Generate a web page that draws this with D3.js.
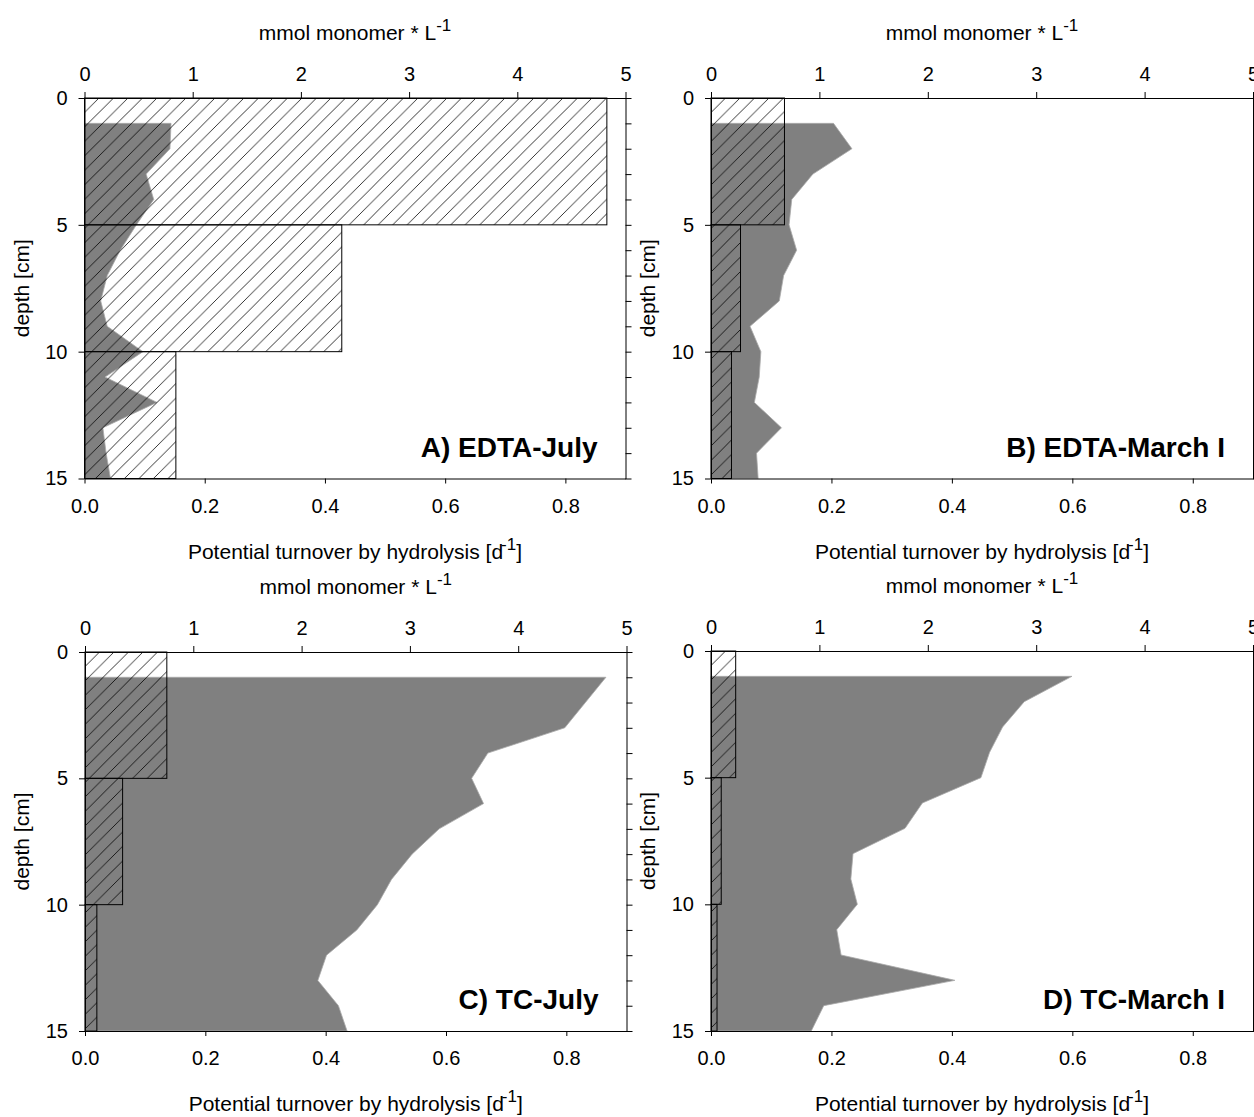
<!DOCTYPE html>
<html>
<head>
<meta charset="utf-8">
<script src="https://cdn.jsdelivr.net/npm/d3@7"></script>
<style>
  body { margin: 0; background: #fff; }
  text { font-family: "Liberation Sans", Arial, sans-serif; fill: #000; }
</style>
</head>
<body>
<div id="chart"></div>
<script>
// depth of each monomer sample [cm]
const depthCm = [1, 2, 3, 4, 5, 6, 7, 8, 9, 10, 11, 12, 13, 14, 15];

// monomer concentration, mmol monomer * L-1 (grey profile, top axis)
const monomerA = [0.80, 0.79, 0.57, 0.64, 0.48, 0.33, 0.21, 0.15, 0.21, 0.54, 0.19, 0.67, 0.17, 0.20, 0.24];
const monomerB = [1.13, 1.30, 0.94, 0.745, 0.72, 0.79, 0.67, 0.63, 0.36, 0.46, 0.445, 0.40, 0.65, 0.42, 0.435];
const monomerC = [4.81, 4.62, 4.43, 3.72, 3.57, 3.68, 3.27, 3.02, 2.83, 2.70, 2.51, 2.23, 2.15, 2.34, 2.42];
const monomerD = [3.33, 2.89, 2.69, 2.57, 2.49, 1.95, 1.79, 1.31, 1.29, 1.35, 1.16, 1.20, 2.25, 1.04, 0.925];

// sediment layers for turnover bars [cm]
const layerTop = [0, 5, 10];
const layerBottom = [5, 10, 15];

// potential turnover by hydrolysis, d-1 (hatched bars, bottom axis)
const turnoverA = [0.869, 0.428, 0.152];
const turnoverB = [0.122, 0.049, 0.034];
const turnoverC = [0.136, 0.0625, 0.0197];
const turnoverD = [0.041, 0.017, 0.010];

// tick values
const turnoverTicks = [0, 0.2, 0.4, 0.6, 0.8];
const monomerTicks = [0, 1, 2, 3, 4, 5];
const depthTicks = [0, 5, 10, 15];
const depthMinorTicks = d3.range(0, 16);

const panelLabels = ["A) EDTA-July", "B) EDTA-March I", "C) TC-July", "D) TC-March I"];

// panel placement in the page
const panels = [
  { x: 84.5, y: 98, w: 541, h: 380.5, monomer: monomerA, turnover: turnoverA, label: panelLabels[0] },
  { x: 711, y: 98, w: 542, h: 380.5, monomer: monomerB, turnover: turnoverB, label: panelLabels[1] },
  { x: 85, y: 652, w: 541.5, h: 379, monomer: monomerC, turnover: turnoverC, label: panelLabels[2] },
  { x: 711, y: 651, w: 542, h: 380, monomer: monomerD, turnover: turnoverD, label: panelLabels[3] }
];

const svg = d3
  .select("#chart")
  .append("svg")
  .attr("width", 1254)
  .attr("height", 1117);

// hatch pattern for the turnover bars
const hs = 14.5;
svg
  .append("defs")
  .append("pattern")
  .attr("id", "hatch")
  .attr("patternUnits", "userSpaceOnUse")
  .attr("width", hs)
  .attr("height", hs)
  .append("path")
  .attr("d", `M0,${hs} L${hs},0 M${-hs / 4},${hs / 4} L${hs / 4},${-hs / 4} M${hs * 0.75},${hs * 1.25} L${hs * 1.25},${hs * 0.75}`)
  .attr("stroke", "#000")
  .attr("stroke-width", 0.8);

function drawPanel(p) {
  const g = svg.append("g").attr("transform", `translate(${p.x},${p.y})`);

  const xTurn = d3.scaleLinear().domain([0, 0.9]).range([0, p.w]);
  const xMono = d3.scaleLinear().domain([0, 5]).range([0, p.w]);
  const yDepth = d3.scaleLinear().domain([0, 15]).range([0, p.h]);

  // grey monomer profile
  const profile = depthCm.map((d, i) => ({ depth: d, value: p.monomer[i] }));
  const area = d3
    .area()
    .y((d) => yDepth(d.depth))
    .x0(xMono(0))
    .x1((d) => xMono(d.value));

  g.append("path")
    .datum(profile)
    .attr("d", area)
    .attr("fill", "#808080")
    .attr("stroke", "#a9a9a9")
    .attr("stroke-width", 0.8);

  // hatched turnover bars
  const layers = layerTop.map((t, i) => ({ top: t, bottom: layerBottom[i], value: p.turnover[i] }));
  g.selectAll("rect.bar")
    .data(layers)
    .enter()
    .append("rect")
    .attr("class", "bar")
    .attr("x", xTurn(0))
    .attr("y", (d) => yDepth(d.top))
    .attr("width", (d) => xTurn(d.value) - xTurn(0))
    .attr("height", (d) => yDepth(d.bottom) - yDepth(d.top))
    .attr("fill", "url(#hatch)")
    .attr("stroke", "#000")
    .attr("stroke-width", 1);

  // axes
  const bottom = g
    .append("g")
    .attr("transform", `translate(0,${p.h})`)
    .call(
      d3.axisBottom(xTurn).tickValues(turnoverTicks).tickFormat(d3.format(".1f"))
        .tickSize(5).tickSizeOuter(0).tickPadding(15)
    );

  const top = g
    .append("g")
    .call(
      d3.axisTop(xMono).tickValues(monomerTicks).tickFormat(d3.format("d"))
        .tickSize(6).tickSizeOuter(0).tickPadding(11)
    );

  const left = g
    .append("g")
    .call(
      d3.axisLeft(yDepth).tickValues(depthTicks).tickFormat(d3.format("d"))
        .tickSize(6).tickSizeOuter(0).tickPadding(11)
    );

  const right = g
    .append("g")
    .attr("transform", `translate(${p.w},0)`)
    .call(
      d3.axisRight(yDepth).tickValues(depthMinorTicks).tickFormat("")
        .tickSize(6).tickSizeOuter(0)
    );

  [bottom, top, left, right].forEach((a) => {
    a.selectAll("path.domain").attr("stroke", "#000").attr("stroke-width", 1);
    a.selectAll("line").attr("stroke", "#000");
    a.selectAll("text")
      .style("font-family", '"Liberation Sans", Arial, sans-serif')
      .attr("font-size", 20)
      .attr("fill", "#000");
  });

  // axis titles
  const topTitle = g
    .append("text")
    .attr("x", p.w / 2)
    .attr("y", -58)
    .attr("text-anchor", "middle")
    .attr("font-size", 21);
  topTitle.append("tspan").text("mmol monomer * L");
  topTitle.append("tspan").attr("dy", -9).attr("font-size", 17).text("-1");

  const bottomTitle = g
    .append("text")
    .attr("x", p.w / 2)
    .attr("y", p.h + 80)
    .attr("text-anchor", "middle")
    .attr("font-size", 21);
  bottomTitle.append("tspan").text("Potential turnover by hydrolysis [d");
  bottomTitle.append("tspan").attr("dy", -9).attr("dx", -2).attr("font-size", 17).text("-1");
  bottomTitle.append("tspan").attr("dy", 9).text("]");

  g.append("text")
    .attr("transform", `translate(-56,${p.h / 2}) rotate(-90)`)
    .attr("text-anchor", "middle")
    .attr("font-size", 21)
    .text("depth [cm]");

  // panel label
  g.append("text")
    .attr("x", p.w - 28)
    .attr("y", p.h - 22)
    .attr("text-anchor", "end")
    .attr("font-size", 28)
    .attr("font-weight", "bold")
    .text(p.label);
}

panels.forEach(drawPanel);
</script>
</body>
</html>
